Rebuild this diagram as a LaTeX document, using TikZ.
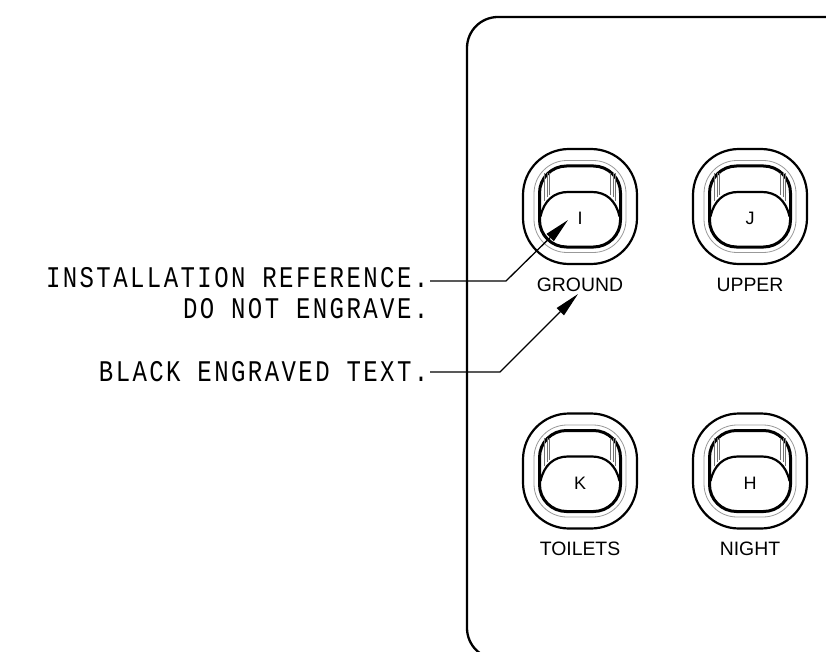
\documentclass[tikz,border=0pt]{standalone}
\usepackage{fontspec}
\setmainfont{Liberation Sans}
\newfontfamily\cadfont[FakeStretch=0.8,LetterSpace=8.1]{Liberation Mono}
\usetikzlibrary{arrows.meta}
\definecolor{ink}{RGB}{0,0,0}
\tikzset{
  x=1pt,y=-1pt,
  panel/.style={draw=ink,line width=2.3pt},
  outerring/.style={draw=ink,line width=2.2pt},
  grayring/.style={draw=black!40,line width=0.8pt},
  thickring/.style={draw=ink,line width=3pt},
  rocker/.style={draw=ink,line width=2.2pt},
  hatching/.style={draw=black!55,line width=0.5pt},
  keyletter/.style={font=\fontsize{18}{18}\selectfont,inner sep=0pt,anchor=base},
  engraved/.style={font=\fontsize{19.4}{19.4}\selectfont,inner sep=0pt,anchor=base},
  note/.style={font=\cadfont\fontsize{30}{30}\selectfont,inner sep=0pt,anchor=base east,text height=12pt,text depth=0pt},
  leader/.style={draw=ink,line width=1.3pt},
  arrowed/.style={leader,-{Triangle[length=25pt,width=10pt]}},
}
\newcommand{\rockerbtn}[6]{%
  \begin{scope}[shift={(#1,#2)}]
    \draw[outerring,rounded corners=46pt] (-57,-57.5) rectangle (57,57.5);
    \draw[grayring,rounded corners=33pt] (-46,-46) rectangle (46,46);
    \draw[thickring,rounded corners=27pt] (-40.5,-40.5) rectangle (40.5,40.5);
    \draw[rocker] (-39.5,10) .. controls (-36,-6) and (-26,-14.5) .. (-12,-14.5) -- (12,-14.5) .. controls (26,-14.5) and (36,-6) .. (39.5,10);
    \foreach \hx/\hy in {-35.5/-5,-33/-9,-30.5/-11,35.5/-5,33/-9,30.5/-11}
      \draw[hatching] (\hx,-33) -- (\hx,\hy);
    \node[keyletter] (#3) at (0,18) {#4};
    \node[engraved] (#5) at (0,84.5) {#6};
  \end{scope}}
\begin{document}
\begin{tikzpicture}
\useasboundingbox (0,0) rectangle (826,652);
\begin{scope}
  \clip (0,0) rectangle (826,652);
  \draw[panel,rounded corners=31pt] (860,17) -- (467,17) -- (467,659) -- (860,659);
\end{scope}
\rockerbtn{580}{206.5}{keyi}{I}{ground}{GROUND}
\rockerbtn{750}{206.5}{keyj}{J}{upper}{UPPER}
\rockerbtn{580}{471}{keyk}{K}{toilets}{TOILETS}
\rockerbtn{750}{471}{keyh}{H}{night}{NIGHT}
\node[note] (refa) at (428.5,287) {INSTALLATION REFERENCE.};
\node[note] (refb) at (428.5,318) {DO NOT ENGRAVE.};
\node[note] (refc) at (428.5,381) {BLACK ENGRAVED TEXT.};
\coordinate (elbowa) at (506,281);
\coordinate (tipa) at (568,220);
\coordinate (elbowc) at (500,372);
\coordinate (tipc) at (578,294);
\draw[arrowed] ([xshift=1.5pt]refa.east |- elbowa) -- (elbowa) -- (tipa);
\draw[arrowed] ([xshift=1.5pt]refc.east |- elbowc) -- (elbowc) -- (tipc);
\end{tikzpicture}
\end{document}
